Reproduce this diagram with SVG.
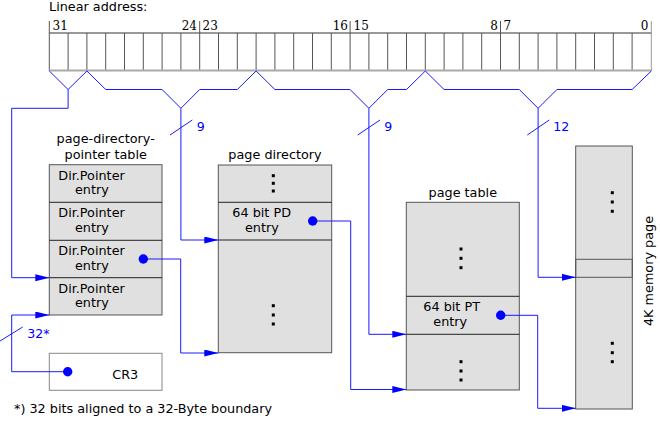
<svg xmlns="http://www.w3.org/2000/svg" width="660" height="440" viewBox="0 0 660 440">
<style>
text{font-family:"DejaVu Sans","Liberation Sans",sans-serif;font-size:12.8px;fill:#000}
.num{font-family:"DejaVu Serif","Liberation Serif",serif;font-size:12px}
.blue{fill:#0000ff;font-size:12.6px}
.tbl{fill:#e0e0e0;stroke:#555;stroke-width:1}
.div{stroke:#222;stroke-width:1;fill:none}
.cell{stroke:#555;stroke-width:1}
.wire{fill:none;stroke:#1a1aff;stroke-width:1}
.dot{fill:#0000ff}
.vd{fill:#000}
</style>
<defs>
<marker id="arr" markerUnits="userSpaceOnUse" markerWidth="15" markerHeight="8" refX="14" refY="3.5" orient="auto">
<path d="M0,0 L14,3.5 L0,7 z" fill="#0000ff"/>
</marker>
</defs>
<rect width="660" height="440" fill="#fff"/>

<g id="linear-address">
<text x="49" y="11">Linear address:</text>
<line x1="49.3" y1="33" x2="651.3" y2="33" stroke="#333"/>
<g class="cell">
<line x1="49.3" y1="21" x2="49.3" y2="71"/><line x1="68.1" y1="33" x2="68.1" y2="71"/><line x1="86.9" y1="33" x2="86.9" y2="71"/><line x1="105.7" y1="33" x2="105.7" y2="71"/>
<line x1="124.5" y1="33" x2="124.5" y2="71"/><line x1="143.3" y1="33" x2="143.3" y2="71"/><line x1="162.1" y1="33" x2="162.1" y2="71"/><line x1="180.9" y1="33" x2="180.9" y2="71"/>
<line x1="199.7" y1="21" x2="199.7" y2="71"/><line x1="218.5" y1="33" x2="218.5" y2="71"/><line x1="237.3" y1="33" x2="237.3" y2="71"/><line x1="256.1" y1="33" x2="256.1" y2="71"/>
<line x1="274.9" y1="33" x2="274.9" y2="71"/><line x1="293.7" y1="33" x2="293.7" y2="71"/><line x1="312.5" y1="33" x2="312.5" y2="71"/><line x1="331.3" y1="33" x2="331.3" y2="71"/>
<line x1="350.1" y1="21" x2="350.1" y2="71"/><line x1="368.9" y1="33" x2="368.9" y2="71"/><line x1="387.7" y1="33" x2="387.7" y2="71"/><line x1="406.5" y1="33" x2="406.5" y2="71"/>
<line x1="425.3" y1="33" x2="425.3" y2="71"/><line x1="444.1" y1="33" x2="444.1" y2="71"/><line x1="462.9" y1="33" x2="462.9" y2="71"/><line x1="481.7" y1="33" x2="481.7" y2="71"/>
<line x1="500.5" y1="21" x2="500.5" y2="71"/><line x1="519.3" y1="33" x2="519.3" y2="71"/><line x1="538.1" y1="33" x2="538.1" y2="71"/><line x1="556.9" y1="33" x2="556.9" y2="71"/>
<line x1="575.7" y1="33" x2="575.7" y2="71"/><line x1="594.5" y1="33" x2="594.5" y2="71"/><line x1="613.3" y1="33" x2="613.3" y2="71"/><line x1="632.1" y1="33" x2="632.1" y2="71"/>
<line x1="651.3" y1="21" x2="651.3" y2="71" stroke="#999"/>
</g>
<line x1="49" y1="70.5" x2="651.5" y2="70.5" stroke="#aaa" stroke-width="2"/>
<text class="num" x="52.5" y="30">31</text>
<text class="num" x="197" y="30" text-anchor="end">24</text>
<text class="num" x="202.5" y="30">23</text>
<text class="num" x="348" y="30" text-anchor="end">16</text>
<text class="num" x="353.5" y="30">15</text>
<text class="num" x="498" y="30" text-anchor="end">8</text>
<text class="num" x="503.5" y="30">7</text>
<text class="num" x="648.5" y="30" text-anchor="end">0</text>
</g>

<g id="pdpt">
<text x="105.7" y="143" text-anchor="middle">page-directory-</text>
<text x="105.7" y="159" text-anchor="middle">pointer table</text>
<rect class="tbl" x="49.3" y="164.7" width="112.7" height="150.3"/>
<line class="div" x1="49.3" y1="202.3" x2="162" y2="202.3"/>
<line class="div" x1="49.3" y1="240.3" x2="162" y2="240.3"/>
<line class="div" x1="49.3" y1="277.7" x2="162" y2="277.7"/>
<text x="58.3" y="179.5">Dir.Pointer</text><text x="75" y="194">entry</text>
<text x="58.3" y="217.1">Dir.Pointer</text><text x="75" y="231.6">entry</text>
<text x="58.3" y="255.1">Dir.Pointer</text><text x="75" y="269.6">entry</text>
<text x="58.3" y="292.5">Dir.Pointer</text><text x="75" y="307">entry</text>
</g>

<g id="cr3">
<rect x="49.3" y="353.3" width="112.7" height="37" fill="#fff" stroke="#888"/>
<text x="112.3" y="378.5">CR3</text>
</g>

<g id="page-directory">
<text x="275" y="159" text-anchor="middle">page directory</text>
<rect class="tbl" x="218.3" y="165" width="113.4" height="187.7"/>
<line class="div" x1="218.3" y1="202.3" x2="331.7" y2="202.3"/>
<line class="div" x1="218.3" y1="240" x2="331.7" y2="240"/>
<rect class="vd" x="271.8" y="174.2" width="3" height="3"/><rect class="vd" x="271.8" y="181.8" width="3" height="3"/><rect class="vd" x="271.8" y="189.5" width="3" height="3"/>
<rect class="vd" x="271.8" y="304.2" width="3" height="3"/><rect class="vd" x="271.8" y="313.5" width="3" height="3"/><rect class="vd" x="271.8" y="322.5" width="3" height="3"/>
<text x="232.3" y="217">64 bit PD</text>
<text x="245" y="232">entry</text>
</g>

<g id="page-table">
<text x="462.8" y="197" text-anchor="middle">page table</text>
<rect class="tbl" x="406.3" y="202.3" width="113" height="187.7"/>
<line class="div" x1="406.3" y1="296.3" x2="519.3" y2="296.3"/>
<line class="div" x1="406.3" y1="334.3" x2="519.3" y2="334.3"/>
<rect class="vd" x="459.5" y="247.5" width="3" height="3"/><rect class="vd" x="459.5" y="256.8" width="3" height="3"/><rect class="vd" x="459.5" y="266.2" width="3" height="3"/>
<rect class="vd" x="459.5" y="360.2" width="3" height="3"/><rect class="vd" x="459.5" y="369.5" width="3" height="3"/><rect class="vd" x="459.5" y="378.5" width="3" height="3"/>
<text x="423.3" y="310.7">64 bit PT</text>
<text x="433.3" y="325.5">entry</text>
</g>

<g id="memory-page">
<rect class="tbl" x="575.7" y="146" width="56.6" height="263"/>
<rect x="575.7" y="259.3" width="56.6" height="18" fill="none" stroke="#555"/>
<rect class="vd" x="610.8" y="191.2" width="3" height="3"/><rect class="vd" x="610.8" y="200.5" width="3" height="3"/><rect class="vd" x="610.8" y="209.8" width="3" height="3"/>
<rect class="vd" x="610.8" y="341.8" width="3" height="3"/><rect class="vd" x="610.8" y="351.2" width="3" height="3"/><rect class="vd" x="610.8" y="360.2" width="3" height="3"/>
<text transform="translate(652.8,271) rotate(-90)" text-anchor="middle">4K memory page</text>
</g>

<g id="connectors">
<polyline class="wire" points="49.3,71 68.1,89.5 86.9,71"/>
<polyline class="wire" points="86.9,71 105.7,89.5 162.1,89.5 180.9,108.3 199.7,89.5 237.3,89.5 256.1,71"/>
<polyline class="wire" points="256.1,71 274.9,89.5 350.1,89.5 368.9,108.3 387.7,89.5 406.5,89.5 425.3,71"/>
<polyline class="wire" points="425.3,71 444.1,89.5 519.3,89.5 538.1,108.3 556.9,89.5 632.1,89.5 651.3,71"/>
<polyline class="wire" points="68.1,89.5 68.1,108.3 11.7,108.3 11.7,277.7 49.3,277.7" marker-end="url(#arr)"/>
<polyline class="wire" points="180.9,108.3 180.9,240 218.3,240" marker-end="url(#arr)"/>
<polyline class="wire" points="368.9,108.3 368.9,334.3 406.3,334.3" marker-end="url(#arr)"/>
<polyline class="wire" points="538.1,108.3 538.1,277.3 575.7,277.3" marker-end="url(#arr)"/>
<polyline class="wire" points="67.7,371.7 11.7,371.7 11.7,315 49.3,315" marker-end="url(#arr)"/>
<polyline class="wire" points="143.3,259 180.7,259 180.7,353 218.3,353" marker-end="url(#arr)"/>
<polyline class="wire" points="312.7,221 350.7,221 350.7,389.5 406.3,389.5" marker-end="url(#arr)"/>
<polyline class="wire" points="500.7,315.3 537.7,315.3 537.7,408.3 575.7,408.3" marker-end="url(#arr)"/>
<circle class="dot" cx="67.7" cy="371.7" r="4.7"/>
<circle class="dot" cx="143.3" cy="259" r="4.7"/>
<circle class="dot" cx="312.7" cy="221" r="4.7"/>
<circle class="dot" cx="500.7" cy="315.3" r="4.7"/>
<line class="wire" x1="170" y1="135" x2="192.3" y2="120"/>
<line class="wire" x1="357.7" y1="135" x2="380" y2="120"/>
<line class="wire" x1="527.3" y1="135" x2="549.3" y2="120"/>
<line class="wire" x1="0" y1="341" x2="22.7" y2="327"/>
<text class="blue" x="196.7" y="131">9</text>
<text class="blue" x="384.3" y="131">9</text>
<text class="blue" x="553.3" y="131">12</text>
<text class="blue" x="27.3" y="338">32*</text>
</g>

<text x="14" y="413">*) 32 bits aligned to a 32-Byte boundary</text>
</svg>
